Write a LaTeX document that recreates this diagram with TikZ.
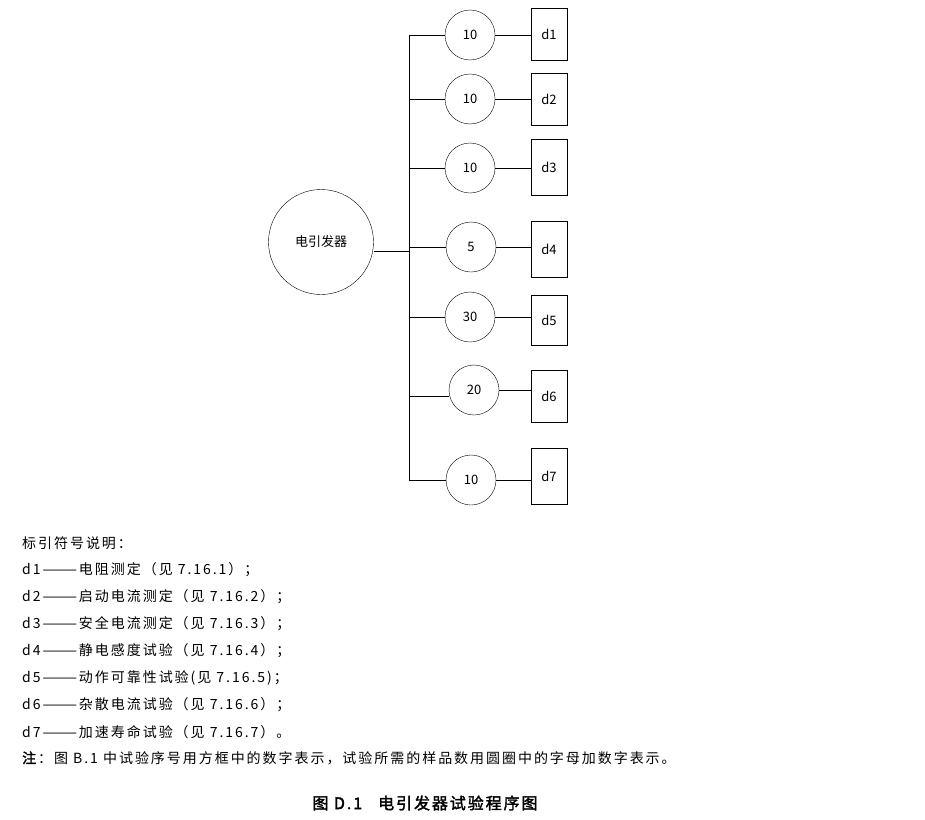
\documentclass[tikz,border=0pt]{standalone}
\usepackage{fontspec}
\setmainfont{Noto Sans CJK SC}[AutoFakeBold=2]
\begin{document}
\begin{tikzpicture}[x=1pt,y=-1pt,font=\fontsize{13}{15}\selectfont,
    smp/.style={draw,circle,minimum size=50pt,inner sep=0pt},
    box/.style={draw,minimum width=36pt,inner sep=0pt},
    txt/.style={anchor=west,inner sep=0pt,font=\fontsize{14}{16}\selectfont\addfontfeatures{LetterSpace=14}}]
    \useasboundingbox (0,0) rectangle (925,819);
    % Source
    \node[draw,circle,minimum size=105pt,inner sep=0pt] (src) at (321,242) {电引发器};
    \coordinate (top) at (409,35);
    \coordinate (bot) at (409,480);
    \draw (top) -- (bot);
    \draw (src.east |- 0,251) -- (409,251);
    % Branches: y of line / circle centre x,y / label / box top,bottom
    \foreach \i/\ly/\cx/\cy/\n/\bt/\bb in {1/35/470/35/10/8/60, 2/99/470/99/10/73/125,
        3/168/470/168/10/139/195, 4/247/471/247/5/221/277, 5/317/470/317/30/295/345,
        6/396/474/390/20/370/422, 7/480/471/480/10/448/504} {
      \node[smp] (c\i) at (\cx,\cy) {\n};
      \node[box,minimum height={\bb-\bt}] (d\i) at (549,{(\bt+\bb)/2}) {d\i};
      \coordinate (t\i) at (409,\ly);
      \draw (t\i) -- (c\i.west |- t\i);
      \draw (c\i.east) -- (d\i.west |- c\i);
    }
    % Legend
    \node[txt] (l0) at (22,543) {标引符号说明：};
    \node[txt] (l1) at (22,570) {d1———电阻测定（见 7.16.1）；};
    \node[txt] (l2) at (22,597) {d2———启动电流测定（见 7.16.2）；};
    \node[txt] (l3) at (22,624) {d3———安全电流测定（见 7.16.3）；};
    \node[txt] (l4) at (22,651) {d4———静电感度试验（见 7.16.4）；};
    \node[txt] (l5) at (22,678) {d5———动作可靠性试验(见 7.16.5)；};
    \node[txt] (l6) at (22,705) {d6———杂散电流试验（见 7.16.6）；};
    \node[txt] (l7) at (22,732) {d7———加速寿命试验（见 7.16.7）。};
    \node[txt] (note) at (22,758) {\textbf{注}：图 B.1 中试验序号用方框中的数字表示，试验所需的样品数用圆圈中的字母加数字表示。};
    \node[font=\fontsize{16}{18}\selectfont\bfseries\addfontfeatures{LetterSpace=12}] (title) at (425,803) {图 D.1\quad 电引发器试验程序图};
\end{tikzpicture}
\end{document}
